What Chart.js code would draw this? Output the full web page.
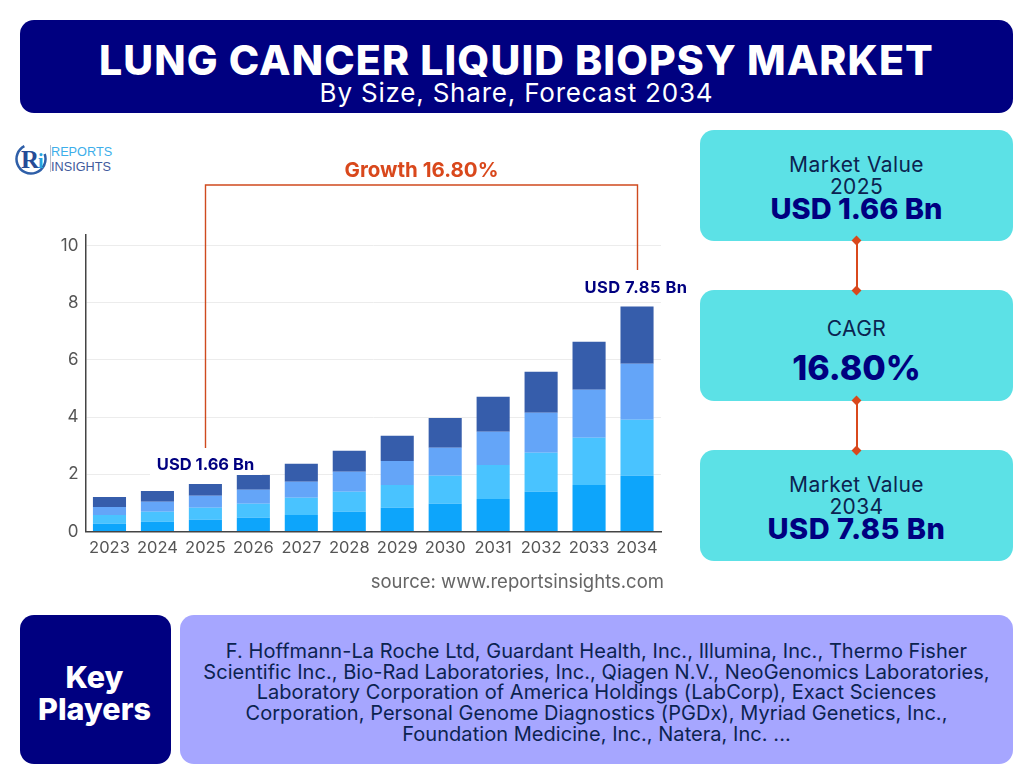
<!DOCTYPE html>
<html>
<head>
<meta charset="utf-8">
<title>Lung Cancer Liquid Biopsy Market</title>
<script src="https://cdn.jsdelivr.net/npm/chart.js@4"></script>
<style>
    html, body { margin: 0; padding: 0; background: #fff; }
    body { width: 1032px; height: 766px; position: relative; overflow: hidden; font-family: Inter, "Open Sans", sans-serif; }
    #chart { position: absolute; left: 0; top: 0; }
    .box { position: absolute; text-align: center; box-sizing: border-box; }
    .header { left: 20px; top: 20px; width: 993px; height: 93px; background: #000080; border-radius: 14px; color: #fff; }
    .header .t1 { position: absolute; left: 0; right: 0; top: 16px; font-size: 41px; line-height: 48px; font-weight: 800; letter-spacing: 1.1px; }
    .header .t2 { position: absolute; left: 0; right: 0; top: 57px; font-size: 26px; line-height: 32px; font-weight: 400; letter-spacing: .8px; }
    .card { left: 700px; width: 313px; height: 111px; background: #5ce1e6; border-radius: 14px; color: #0b2350; }
    .card div { position: absolute; left: 0; right: 0; }
    .card .lbl { font-size: 21px; line-height: 24px; letter-spacing: .4px; }
    .card .big { font-size: 29px; line-height: 32px; font-weight: 800; color: #000080; }
    .card .huge { font-size: 34px; line-height: 40px; font-weight: 800; color: #000080; }
    .link { position: absolute; left: 856px; width: 1.5px; background: #d9481c; }
    .dot { position: absolute; width: 7px; height: 7px; background: #d9481c; transform: rotate(45deg); }
    .source { position: absolute; left: 330px; width: 334px; top: 570px; text-align: right; font-size: 18.5px; line-height: 22px; color: #666; }
    .keybox { left: 20px; top: 615px; width: 151px; height: 149px; background: #000080; border-radius: 14px; color: #fff; font-size: 30.5px; line-height: 32px; font-weight: 800; padding-top: 46px; padding-right: 2px; }
    .players { left: 180px; top: 615px; width: 833px; height: 149px; background: #a6a6ff; border-radius: 14px; color: #0b2350; font-size: 20px; line-height: 20.7px; letter-spacing: .05px; padding: 26px 0 0; white-space: nowrap; }
    .logo { position: absolute; left: 15px; top: 142px; width: 100px; height: 36px; }
    .logo .rule { position: absolute; left: 35px; top: 3px; width: 1px; height: 27px; background: #b9c0cc; }
    .logo .l1, .logo .l2 { position: absolute; left: 36px; font-size: 12.7px; line-height: 14px; font-family: "Liberation Sans", sans-serif; }
    .logo .l1 { top: 3px; color: #3daeea; }
    .logo .l2 { top: 18px; color: #3f5a9c; }
</style>
</head>
<body>

<div class="box header">
    <div class="t1">LUNG CANCER LIQUID BIOPSY MARKET</div>
    <div class="t2">By Size, Share, Forecast 2034</div>
</div>

<div class="logo">
    <svg width="34" height="36" viewBox="0 0 34 36">
        <circle cx="16" cy="17" r="14.5" fill="none" stroke="#2f5fa8" stroke-width="2.5" stroke-dasharray="66 26" transform="rotate(-20 16 17)"/>
        <text x="6" y="26" font-family="Liberation Serif" font-size="25" font-weight="700" fill="#254b96">R</text>
        <text x="23" y="26" font-family="Liberation Serif" font-size="20" font-weight="700" fill="#27a3df">i</text>
    </svg>
    <div class="rule"></div>
    <div class="l1">REPORTS</div>
    <div class="l2">INSIGHTS</div>
</div>

<div class="box card" style="top:130px">
    <div class="lbl" style="top:23px">Market Value</div>
    <div class="lbl" style="top:45px">2025</div>
    <div class="big" style="top:63px">USD 1.66 Bn</div>
</div>
<div class="box card" style="top:290px">
    <div class="lbl" style="top:27px">CAGR</div>
    <div class="huge" style="top:58px">16.80%</div>
</div>
<div class="box card" style="top:450px">
    <div class="lbl" style="top:23px">Market Value</div>
    <div class="lbl" style="top:45px">2034</div>
    <div class="big" style="top:63px;letter-spacing:.5px">USD 7.85 Bn</div>
</div>

<div class="link" style="top:240px;height:50px"></div>
<div class="link" style="top:400px;height:50px"></div>
<div class="dot" style="left:853px;top:237px"></div>
<div class="dot" style="left:853px;top:287px"></div>
<div class="dot" style="left:853px;top:397px"></div>
<div class="dot" style="left:853px;top:447px"></div>

<canvas id="chart" width="1032" height="766"></canvas>

<div class="source">source: www.reportsinsights.com</div>

<div class="box keybox">Key<br>Players</div>
<div class="box players">F. Hoffmann-La Roche Ltd, Guardant Health, Inc., Illumina, Inc., Thermo Fisher<br>Scientific Inc., Bio-Rad Laboratories, Inc., Qiagen N.V., NeoGenomics Laboratories,<br>Laboratory Corporation of America Holdings (LabCorp), Exact Sciences<br>Corporation, Personal Genome Diagnostics (PGDx), Myriad Genetics, Inc.,<br>Foundation Medicine, Inc., Natera, Inc. ...</div>

<script>
// values, in USD Bn per segment
const years = ['2023', '2024', '2025', '2026', '2027', '2028', '2029', '2030', '2031', '2032', '2033', '2034'];
const seriesA = [0.27, 0.34, 0.41, 0.48, 0.58, 0.69, 0.83, 0.97, 1.14, 1.39, 1.63, 1.95];
const seriesB = [0.31, 0.35, 0.42, 0.49, 0.60, 0.70, 0.80, 0.98, 1.19, 1.36, 1.65, 1.96];
const seriesC = [0.28, 0.35, 0.42, 0.49, 0.56, 0.70, 0.84, 0.98, 1.16, 1.40, 1.68, 1.96];
const seriesD = [0.35, 0.38, 0.41, 0.52, 0.63, 0.73, 0.88, 1.04, 1.22, 1.44, 1.68, 2.00];
const yTicks = [0, 2, 4, 6, 8, 10];

const startLabel = 'USD 1.66 Bn';
const endLabel = 'USD 7.85 Bn';
const growthLabel = 'Growth 16.80%';

const growthBracket = {
    id: 'growthBracket',
    // white patch behind the 2025 label hides the gridline, bars stay on top
    beforeDatasetsDraw(chart) {
        const { ctx } = chart;
        ctx.save();
        ctx.fillStyle = '#fff';
        ctx.fillRect(150, 448, 112, 27);
        ctx.restore();
    },
    afterDatasetsDraw(chart) {
        const { ctx, scales: { x } } = chart;
        const x0 = Math.floor(x.getPixelForValue(2)) + .5;
        const x1 = Math.floor(x.getPixelForValue(11)) + .5;
        const top = 185;
        ctx.save();

        ctx.strokeStyle = '#cf4a1e';
        ctx.lineWidth = 1.4;
        ctx.beginPath();
        ctx.moveTo(x0, 448);
        ctx.lineTo(x0, top);
        ctx.lineTo(x1, top);
        ctx.lineTo(x1, 270);
        ctx.stroke();

        ctx.textAlign = 'center';
        ctx.textBaseline = 'middle';
        ctx.fillStyle = '#d9481c';
        ctx.font = '700 20.5px Inter';
        ctx.fillText(growthLabel, (x0 + x1) / 2, 171);

        ctx.font = '700 16.5px Inter';
        ctx.fillStyle = '#000080';
        ctx.fillText(startLabel, 205.5, 465);
        ctx.letterSpacing = '.5px';
        ctx.fillText(endLabel, 636, 288);
        ctx.restore();
    }
};

new Chart(document.getElementById('chart'), {
    type: 'bar',
    data: {
        labels: years,
        datasets: [
            { label: 'A', data: seriesA, backgroundColor: '#0da5fb' },
            { label: 'B', data: seriesB, backgroundColor: '#49c3ff' },
            { label: 'C', data: seriesC, backgroundColor: '#64a5f8' },
            { label: 'D', data: seriesD, backgroundColor: '#365dab' }
        ]
    },
    options: {
        responsive: false,
        animation: false,
        layout: { padding: { left: 0, top: 235, right: 371, bottom: 0 } },
        plugins: { legend: { display: false }, tooltip: { enabled: false } },
        datasets: { bar: { categoryPercentage: 1, barPercentage: 0.69 } },
        scales: {
            x: {
                stacked: true,
                afterFit: scale => { scale.height = 234.5; },
                border: { color: '#444', width: 1.5 },
                grid: { display: false },
                ticks: { color: '#555', font: { family: 'Inter', size: 16.5 }, padding: -1, maxRotation: 0, autoSkip: false }
            },
            y: {
                stacked: true,
                min: 0,
                max: 10.37,
                afterFit: scale => { scale.width = 85.5; },
                afterBuildTicks: scale => { scale.ticks = yTicks.map(v => ({ value: v })); },
                border: { color: '#444', width: 1.5 },
                grid: { color: '#ececec', lineWidth: 1, drawTicks: false },
                ticks: { color: '#555', font: { family: 'Inter', size: 17 }, padding: 7 }
            }
        }
    },
    plugins: [growthBracket]
});
</script>
</body>
</html>
